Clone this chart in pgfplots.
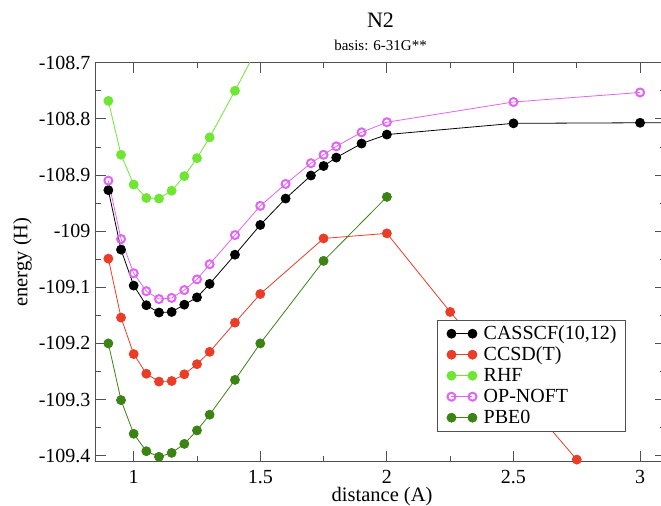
\documentclass[border=0pt]{standalone}
\usepackage{fontspec}
\setmainfont{Liberation Serif}
\usepackage{pgfplots}
\pgfplotsset{compat=1.18}
\definecolor{cRed}{RGB}{235,60,40}
\definecolor{cLime}{RGB}{110,230,50}
\definecolor{cMag}{RGB}{225,100,245}
\definecolor{cDkGreen}{RGB}{60,130,20}
\definecolor{cFrame}{RGB}{80,80,80}
\newcommand{\bigf}{\fontsize{20bp}{24bp}\selectfont}
\begin{document}
\begin{tikzpicture}
\useasboundingbox (-95.7bp,-44.7bp) rectangle (565.3bp,461.3bp);
\begin{axis}[
  name=ax, at={(0,0)}, anchor=south west,
  scale only axis, width=569.7bp, height=398.6bp,
  xmin=0.85, xmax=3.1, ymin=-109.41, ymax=-108.7,
  xtick={1,1.5,2,2.5,3}, xticklabels={\textrm{1},\textrm{1.5},\textrm{2},\textrm{2.5},\textrm{3}},
  minor xtick={1.25,1.75,2.25,2.75},
  ytick={-109.4,-109.3,-109.2,-109.1,-109,-108.9,-108.8,-108.7},
  yticklabels={\textrm{-109.4},\textrm{-109.3},\textrm{-109.2},\textrm{-109.1},\textrm{-109},\textrm{-108.9},\textrm{-108.8},\textrm{-108.7}},
  minor ytick={-109.35,-109.25,-109.15,-109.05,-108.95,-108.85,-108.75},
  tick pos=both, xticklabel pos=lower, yticklabel pos=left,
  tick align=inside, major tick length=10bp, minor tick length=5bp,
  axis line style={cFrame, line width=1bp},
  tick style={cFrame, line width=0.8bp},
  tick label style={font=\bigf},
  yticklabel style={inner sep=0pt, xshift=-5bp},
  xticklabel style={inner sep=0pt, yshift=-8.7bp},
  legend image code/.code={\path (0bp,0bp); \draw[mark repeat=1] plot coordinates {(11.4bp,0bp) (32.4bp,0bp)};},
  legend cell align=left,
  legend style={at={(0.5996,0.3545)}, anchor=north west, draw=cFrame, line width=0.8bp,
    inner xsep=2bp, inner ysep=2.8bp, row sep=0pt, column sep=0pt,
    nodes={font=\bigf, inner xsep=6.7bp, inner ysep=1.5bp, text height=15bp, text depth=3bp}},
]
\addplot[black, line width=0.8bp, mark=*, mark size=4.5bp, mark options={solid}] coordinates {
(0.9,-108.927) (0.95,-109.033) (1.0,-109.097) (1.05,-109.132) (1.1,-109.145) (1.15,-109.144)
(1.2,-109.131) (1.25,-109.118) (1.3,-109.094) (1.4,-109.042) (1.5,-108.989) (1.6,-108.942)
(1.7,-108.901) (1.75,-108.884) (1.8,-108.869) (1.9,-108.844) (2.0,-108.828) (2.5,-108.808)
(3.0,-108.807) (3.5,-108.806)};
\addlegendentry{CASSCF(10,12)}
\addplot[cRed, line width=0.8bp, mark=*, mark size=4.5bp, mark options={solid}] coordinates {
(0.9,-109.049) (0.95,-109.154) (1.0,-109.219) (1.05,-109.254) (1.1,-109.268) (1.15,-109.267)
(1.2,-109.255) (1.25,-109.237) (1.3,-109.215) (1.4,-109.163) (1.5,-109.112) (1.75,-109.013)
(2.0,-109.004) (2.25,-109.144) (2.75,-109.407)};
\addlegendentry{CCSD(T)}
\addplot[cLime, line width=0.8bp, mark=*, mark size=4.5bp, mark options={solid}] coordinates {
(0.9,-108.768) (0.95,-108.864) (1.0,-108.917) (1.05,-108.941) (1.1,-108.942) (1.15,-108.928)
(1.2,-108.902) (1.25,-108.870) (1.3,-108.833) (1.4,-108.750) (1.5,-108.664)};
\addlegendentry{RHF}
\addplot[cMag, line width=0.8bp, mark=o, mark size=4bp, mark options={solid, line width=2bp}] coordinates {
(0.9,-108.910) (0.95,-109.014) (1.0,-109.075) (1.05,-109.107) (1.1,-109.121) (1.15,-109.119)
(1.2,-109.105) (1.25,-109.086) (1.3,-109.059) (1.4,-109.007) (1.5,-108.955) (1.6,-108.916)
(1.7,-108.879) (1.75,-108.864) (1.8,-108.849) (1.9,-108.824) (2.0,-108.806) (2.5,-108.770)
(3.0,-108.753)};
\addlegendentry{OP-NOFT}
\addplot[cDkGreen, line width=0.8bp, mark=*, mark size=4.5bp, mark options={solid}] coordinates {
(0.9,-109.200) (0.95,-109.301) (1.0,-109.361) (1.05,-109.392) (1.1,-109.402) (1.15,-109.395)
(1.2,-109.379) (1.25,-109.355) (1.3,-109.327) (1.4,-109.265) (1.5,-109.200) (1.75,-109.053)
(2.0,-108.939)};
\addlegendentry{PBE0}
\end{axis}
\node[anchor=base, yshift=35.7bp, font=\fontsize{22bp}{26bp}\selectfont] at (ax.north) {N2};
\node[anchor=base, yshift=12.7bp, font=\fontsize{15bp}{18bp}\selectfont] at (ax.north) {basis: 6-31G**};
\node[anchor=base, yshift=-40.4bp, xshift=1.5bp, font=\fontsize{20.5bp}{24bp}\selectfont] at (ax.south) {distance (A)};
\node[anchor=base, rotate=90, font=\fontsize{20.5bp}{24bp}\selectfont] at ([xshift=-68.4bp]ax.west) {energy (H)};
\end{tikzpicture}
\end{document}
